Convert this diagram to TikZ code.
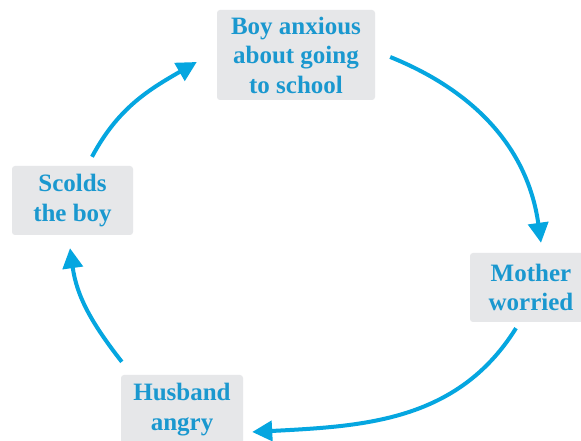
\documentclass[tikz,border=0pt]{standalone}
\usepackage{fontspec}
\setmainfont{Liberation Serif}
\usetikzlibrary{arrows.meta}
\definecolor{boxgray}{HTML}{E6E7E9}
\definecolor{textblue}{HTML}{1A98CF}
\definecolor{arrowblue}{HTML}{05A6E0}
\begin{document}
\begin{tikzpicture}[x=1pt,y=1pt,
  stage/.style={fill=boxgray, rounded corners=3pt, align=center,
    text=textblue, font=\fontsize{25}{29.5}\selectfont\bfseries,
    inner sep=0pt},
  cyc/.style={draw=arrowblue, line width=4pt,
    -{Triangle[length=20pt,width=20pt]}}]
\useasboundingbox (0,0) rectangle (581,441);
\fill[white] (0,0) rectangle (581,441);

\node[stage, minimum width=158pt, minimum height=90pt] (boy) at (296,386)
  {Boy anxious\\about going\\to school};
\node[stage, minimum width=122pt, minimum height=69pt] (mother) at (531,153.5)
  {Mother\\worried};
\node[stage, minimum width=122pt, minimum height=69pt] (husband) at (182,31.5)
  {Husband\\angry};
\node[stage, minimum width=121pt, minimum height=69pt] (scolds) at (72.5,240.5)
  {Scolds\\the boy};

\draw[cyc] ([shift={(15,-2)}]boy.east) to[out=-22,in=98]
  ([shift={(10,10)}]mother.north);
\draw[cyc] ([shift={(-15,-6)}]mother.south) to[out=-122,in=3]
  ([shift={(9,-22.5)}]husband.east);
\draw[cyc] ([shift={(1,13)}]husband.north west) to[out=128,in=-82]
  ([shift={(-2.5,-13)}]scolds.south);
\draw[cyc] ([shift={(19.5,9)}]scolds.north) to[out=62,in=-150]
  ([shift={(-20,-7)}]boy.west);
\end{tikzpicture}
\end{document}
